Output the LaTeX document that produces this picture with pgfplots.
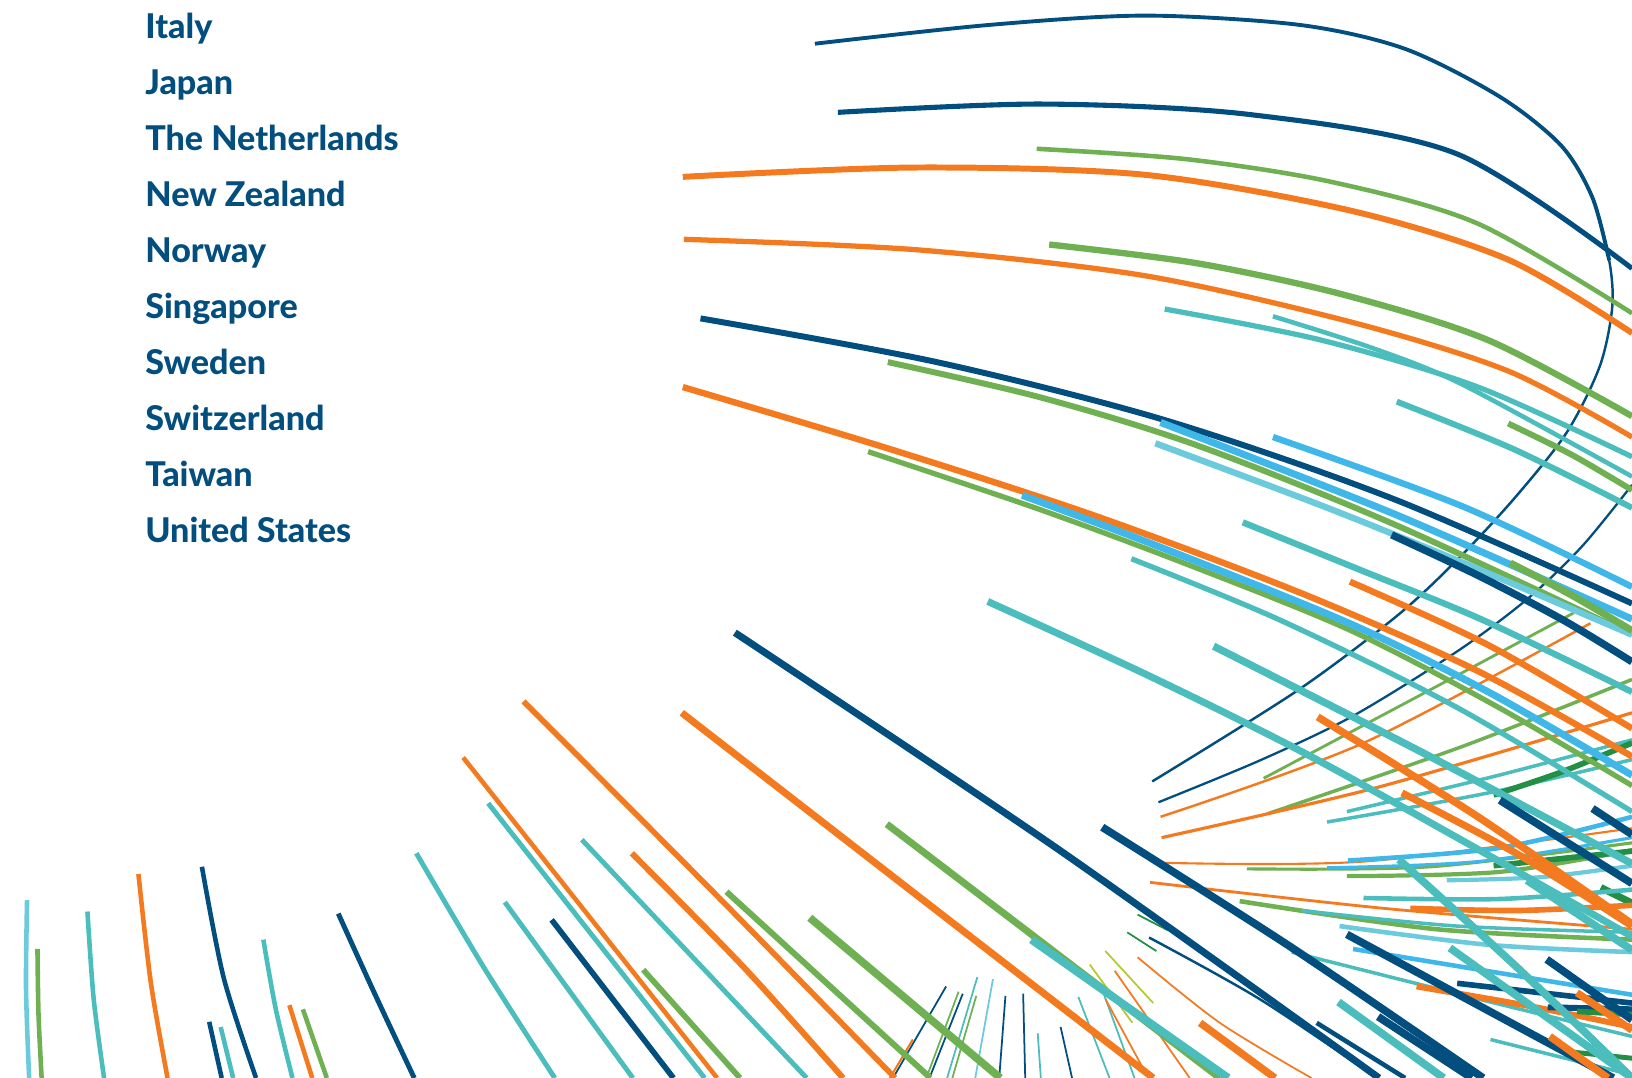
\documentclass[border=0pt]{standalone}
\usepackage{pgfplots}
\pgfplotsset{compat=1.18}
\usepackage{fontspec}
\setmainfont{Lato}
\IfFontExistsTF{Lato Heavy}{\newfontfamily\labelfont{Lato Heavy}}{%
  \IfFontExistsTF{Lato Black}{\newfontfamily\labelfont{Lato Black}}{\newcommand\labelfont{\bfseries}}}
\definecolor{dkblue}{HTML}{024E7E}
\definecolor{orng}{HTML}{F47A20}
\definecolor{grn}{HTML}{6EB052}
\definecolor{teal}{HTML}{4BBDBC}
\definecolor{ltblue}{HTML}{3FB7E8}
\definecolor{pale}{HTML}{6CCADD}
\definecolor{dkgrn}{HTML}{228F44}
\definecolor{ygrn}{HTML}{B4CA30}
\pgfplotsset{ln/.style={no marks, smooth}}
\begin{document}
\begin{tikzpicture}
\useasboundingbox (0,0) rectangle (16.32cm,10.78cm);
\begin{axis}[
  at={(0,0)}, anchor=south west,
  width=16.32cm, height=10.78cm, scale only axis,
  xmin=0, xmax=1568, ymin=0, ymax=1036, y dir=reverse,
  hide axis, clip=true,
]
% country labels
\foreach \n/\t in {0/Italy,1/Japan,2/The Netherlands,3/New Zealand,4/Norway,5/Singapore,6/Sweden,7/Switzerland,8/Taiwan,9/United States}{
  \edef\temp{\noexpand\node[anchor=base west, inner sep=0pt, text=dkblue, font=\noexpand\fontsize{9.7}{11}\noexpand\selectfont\noexpand\labelfont] at (axis cs:139,{37+53.8*\n}) {\t};}
  \temp
}
% small fan at the bottom
\addplot[ln, dkblue, line width=0.5pt] coordinates {(909,948)(858,1036)};
\addplot[ln, grn, line width=0.5pt] coordinates {(921,953)(890,1036)};
\addplot[ln, dkblue, line width=0.5pt] coordinates {(925,955)(893,1036)};
\addplot[ln, teal, line width=0.5pt] coordinates {(939,939)(910,1036)};
\addplot[ln, grn, line width=0.5pt] coordinates {(938,957)(915,1036)};
\addplot[ln, pale, line width=0.5pt] coordinates {(954,941)(937,1036)};
\addplot[ln, dkblue, line width=0.5pt] coordinates {(966,957)(960,1036)};
\addplot[ln, dkblue, line width=0.5pt] coordinates {(983,955)(985,1036)};
\addplot[ln, teal, line width=0.5pt] coordinates {(997,993)(1000,1036)};
\addplot[ln, dkblue, line width=0.5pt] coordinates {(1019,987)(1030,1036)};
\addplot[ln, teal, line width=0.5pt] coordinates {(1036,958)(1066,1036)};
\addplot[ln, teal, line width=0.5pt] coordinates {(1060,954)(1090,1036)};
\addplot[ln, orng, line width=0.5pt] coordinates {(1062,960)(1100,1030)};
\addplot[ln, orng, line width=0.5pt] coordinates {(1071,933)(1143,1036)};
\addplot[ln, ygrn, line width=0.5pt] coordinates {(1062,914)(1108,964)};
\addplot[ln, ygrn, line width=0.5pt] coordinates {(1047,927)(1088,983)};
\addplot[ln, dkgrn, line width=0.5pt] coordinates {(1093,879)(1122,894)};
\addplot[ln, dkgrn, line width=0.5pt] coordinates {(1083,896)(1111,914)};
\addplot[ln, orng, line width=0.5pt] coordinates {(1093,920)(1172,983)(1260,1036)};
\addplot[ln, orng, line width=0.6pt] coordinates {(855,1036)(877,999)};
\addplot[ln, dkblue, line width=0.7pt] coordinates {(1104,901)(1210,960)(1323,1036)};
% thin curves rising to the right
\addplot[ln, grn, line width=0.8pt] coordinates {(1214,748)(1374,663)(1512,589)};
\addplot[ln, orng, line width=0.7pt] coordinates {(1115,785)(1310,714)(1528,599)};
\addplot[ln, grn, line width=1.0pt] coordinates {(1218,782)(1406,717)(1568,653)};
\addplot[ln, orng, line width=0.9pt] coordinates {(1116,805)(1326,756)(1568,685)};
\addplot[ln, teal, line width=1.0pt] coordinates {(1294,780)(1440,745)(1568,711)};
\addplot[ln, teal, line width=1.0pt] coordinates {(1275,790)(1430,762)(1568,730)};
\addplot[ln, dkgrn, line width=1.6pt] coordinates {(1435,764)(1500,742)(1568,714)};
% near horizontal lines
\addplot[ln, orng, line width=0.6pt] coordinates {(1108,829)(1310,828)(1568,796)};
\addplot[ln, ltblue, line width=1.3pt] coordinates {(1295,827)(1440,815)(1568,785)};
\addplot[ln, grn, line width=0.9pt] coordinates {(1198,835)(1374,833)(1568,810)};
\addplot[ln, ltblue, line width=0.9pt] coordinates {(1275,834)(1420,828)(1568,805)};
\addplot[ln, grn, line width=1.2pt] coordinates {(1294,842)(1440,838)(1568,817)};
\addplot[ln, dkgrn, line width=1.6pt] coordinates {(1435,832)(1568,818)};
\addplot[ln, pale, line width=1.2pt] coordinates {(1390,846)(1480,843)(1568,832)};
\addplot[ln, dkgrn, line width=2.0pt] coordinates {(1538,853)(1568,868)};
\addplot[ln, teal, line width=1.3pt] coordinates {(1310,863)(1440,864)(1568,855)};
\addplot[ln, orng, line width=1.6pt] coordinates {(1355,873)(1460,875)(1568,870)};
\addplot[ln, orng, line width=0.8pt] coordinates {(1105,848)(1330,873)(1568,893)};
\addplot[ln, grn, line width=1.3pt] coordinates {(1191,866)(1380,893)(1568,903)};
\addplot[ln, teal, line width=1.0pt] coordinates {(1250,875)(1400,890)(1568,896)};
\addplot[ln, pale, line width=1.3pt] coordinates {(1287,890)(1430,908)(1568,915)};
\addplot[ln, ltblue, line width=1.3pt] coordinates {(1300,912)(1440,935)(1568,956)};
\addplot[ln, teal, line width=1.0pt] coordinates {(1241,915)(1420,960)(1568,996)};
\addplot[ln, orng, line width=1.7pt] coordinates {(1361,948)(1470,967)(1568,987)};
\addplot[ln, dkblue, line width=1.6pt] coordinates {(1400,945)(1568,964)};
\addplot[ln, dkblue, line width=1.7pt] coordinates {(1487,968)(1568,970)};
\addplot[ln, dkgrn, line width=1.6pt] coordinates {(1515,972)(1568,975)};
\addplot[ln, dkgrn, line width=1.4pt] coordinates {(1500,1010)(1568,1017)};
\addplot[ln, teal, line width=1.0pt] coordinates {(1432,999)(1568,1033)};
% big loop
\addplot[ln, dkblue, line width=0.7pt] coordinates {(783,42)(950,24)(1100,15)(1249,24)(1350,47)(1441,93)(1500,140)(1530,190)(1546,250)(1549,295)(1537,352)(1505,416)(1454,480)(1400,538)(1342,592)(1246,664)(1107,751)};
\addplot[ln, dkblue, line width=1.1pt] coordinates {(783,42)(950,24)(1100,15)(1249,24)(1350,47)(1441,93)(1500,140)(1530,190)(1546,250)};
\addplot[ln, dkblue, line width=0.65pt] coordinates {(1568,466)(1520,525)(1467,576)(1400,626)(1300,688)(1210,731)(1113,771)};
% upper arcs
\addplot[ln, dkblue, line width=1.45pt] coordinates {(805,108)(1000,100)(1200,110)(1400,148)(1568,258)};
\addplot[ln, grn, line width=1.3pt] coordinates {(996,143)(1140,153)(1280,175)(1420,215)(1568,301)};
\addplot[ln, orng, line width=1.7pt] coordinates {(656,170)(880,161)(1100,168)(1300,203)(1450,250)(1568,320)};
\addplot[ln, grn, line width=1.8pt] coordinates {(1008,235)(1150,253)(1290,283)(1430,327)(1568,400)};
\addplot[ln, orng, line width=1.5pt] coordinates {(657,230)(880,240)(1100,265)(1300,310)(1450,357)(1568,420)};
\addplot[ln, teal, line width=1.5pt] coordinates {(1119,297)(1270,327)(1420,372)(1568,439)};
\addplot[ln, teal, line width=1.3pt] coordinates {(1223,304)(1320,335)(1406,370)(1568,458)};
\addplot[ln, teal, line width=1.7pt] coordinates {(1342,386)(1455,432)(1568,488)};
\addplot[ln, grn, line width=1.7pt] coordinates {(1449,407)(1510,437)(1568,471)};
% middle arcs
\addplot[ln, dkblue, line width=1.7pt] coordinates {(673,306)(900,348)(1120,404)(1340,480)(1568,580)};
\addplot[ln, grn, line width=1.7pt] coordinates {(853,348)(1000,382)(1150,428)(1342,505)(1568,610)};
\addplot[ln, ltblue, line width=2.0pt] coordinates {(1115,406)(1342,495)(1568,595)};
\addplot[ln, ltblue, line width=1.8pt] coordinates {(1223,420)(1406,487)(1568,564)};
\addplot[ln, pale, line width=1.8pt] coordinates {(1110,426)(1270,486)(1406,541)(1568,610)};
\addplot[ln, teal, line width=1.8pt] coordinates {(1194,502)(1310,549)(1425,596)(1568,665)};
\addplot[ln, dkblue, line width=2.1pt] coordinates {(1337,514)(1420,553)(1502,596)(1568,636)};
\addplot[ln, grn, line width=2.0pt] coordinates {(1451,541)(1510,572)(1568,606)};
\addplot[ln, orng, line width=1.8pt] coordinates {(656,372)(850,430)(1050,495)(1250,570)(1420,645)(1568,727)};
\addplot[ln, orng, line width=1.8pt] coordinates {(1297,559)(1430,620)(1568,700)};
\addplot[ln, grn, line width=1.5pt] coordinates {(834,434)(1000,490)(1150,546)(1300,607)(1440,680)(1568,755)};
\addplot[ln, ltblue, line width=2.0pt] coordinates {(982,476)(1105,522)(1294,598)(1430,665)(1568,745)};
\addplot[ln, teal, line width=1.5pt] coordinates {(1087,537)(1230,596)(1400,680)(1568,780)};
\addplot[ln, teal, line width=2.0pt] coordinates {(949,578)(1105,650)(1250,722)(1400,805)(1568,900)};
\addplot[ln, teal, line width=2.1pt] coordinates {(1166,621)(1370,725)(1568,830)};
\addplot[ln, orng, line width=2.1pt] coordinates {(1266,689)(1420,785)(1568,888)};
\addplot[ln, orng, line width=2.0pt] coordinates {(1347,762)(1460,822)(1568,890)};
\addplot[ln, dkblue, line width=2.2pt] coordinates {(1441,769)(1568,849)};
\addplot[ln, dkblue, line width=2.2pt] coordinates {(1530,777)(1568,802)};
\addplot[ln, teal, line width=2.2pt] coordinates {(1467,846)(1568,913)};
\addplot[ln, teal, line width=2.2pt] coordinates {(1344,826)(1460,932)(1568,1036)};
\addplot[ln, orng, line width=2.1pt] coordinates {(1515,954)(1568,990)};
% diagonals bottom right
\addplot[ln, dkblue, line width=2.0pt] coordinates {(706,608)(1015,815)(1325,1036)};
\addplot[ln, dkblue, line width=2.2pt] coordinates {(1059,795)(1240,910)(1425,1036)};
\addplot[ln, dkblue, line width=2.2pt] coordinates {(1294,898)(1550,1036)};
\addplot[ln, teal, line width=2.2pt] coordinates {(1393,911)(1568,1036)};
\addplot[ln, dkblue, line width=2.2pt] coordinates {(1486,922)(1568,980)};
\addplot[ln, teal, line width=2.2pt] coordinates {(1286,963)(1387,1036)};
\addplot[ln, dkblue, line width=2.2pt] coordinates {(1324,977)(1414,1036)};
\addplot[ln, dkblue, line width=1.3pt] coordinates {(1265,983)(1350,1036)};
\addplot[ln, orng, line width=2.1pt] coordinates {(1489,996)(1545,1036)};
\addplot[ln, orng, line width=2.1pt] coordinates {(1153,983)(1225,1036)};
% diagonals bottom middle
\addplot[ln, orng, line width=2.0pt] coordinates {(655,685)(887,865)(1108,1036)};
\addplot[ln, grn, line width=2.0pt] coordinates {(852,792)(1172,1036)};
\addplot[ln, teal, line width=2.3pt] coordinates {(991,903)(1180,1036)};
\addplot[ln, grn, line width=2.2pt] coordinates {(778,882)(961,1036)};
\addplot[ln, grn, line width=1.7pt] coordinates {(698,857)(894,1036)};
\addplot[ln, orng, line width=1.7pt] coordinates {(607,820)(715,930)(810,1036)};
\addplot[ln, orng, line width=1.6pt] coordinates {(503,674)(690,862)(860,1036)};
\addplot[ln, orng, line width=1.3pt] coordinates {(445,728)(689,1036)};
\addplot[ln, teal, line width=1.4pt] coordinates {(469,772)(677,1036)};
\addplot[ln, teal, line width=1.4pt] coordinates {(559,807)(775,1036)};
\addplot[ln, grn, line width=1.6pt] coordinates {(618,932)(711,1036)};
\addplot[ln, dkblue, line width=1.6pt] coordinates {(530,884)(647,1036)};
\addplot[ln, teal, line width=1.4pt] coordinates {(485,867)(608,1036)};
\addplot[ln, teal, line width=1.4pt] coordinates {(400,820)(465,930)(533,1036)};
\addplot[ln, dkblue, line width=1.4pt] coordinates {(325,878)(360,955)(398,1036)};
% bottom left
\addplot[ln, pale, line width=1.3pt] coordinates {(26,865)(25,950)(28,1036)};
\addplot[ln, grn, line width=1.3pt] coordinates {(36,912)(37,975)(40,1036)};
\addplot[ln, teal, line width=1.3pt] coordinates {(84,876)(90,960)(100,1036)};
\addplot[ln, orng, line width=1.3pt] coordinates {(133,840)(145,945)(161,1036)};
\addplot[ln, dkblue, line width=1.3pt] coordinates {(194,833)(215,940)(246,1036)};
\addplot[ln, dkblue, line width=1.3pt] coordinates {(201,982)(213,1036)};
\addplot[ln, teal, line width=1.3pt] coordinates {(212,987)(224,1036)};
\addplot[ln, teal, line width=1.3pt] coordinates {(253,903)(265,970)(281,1036)};
\addplot[ln, orng, line width=1.3pt] coordinates {(278,966)(300,1036)};
\addplot[ln, grn, line width=1.3pt] coordinates {(291,970)(314,1036)};
\end{axis}
\end{tikzpicture}
\end{document}
